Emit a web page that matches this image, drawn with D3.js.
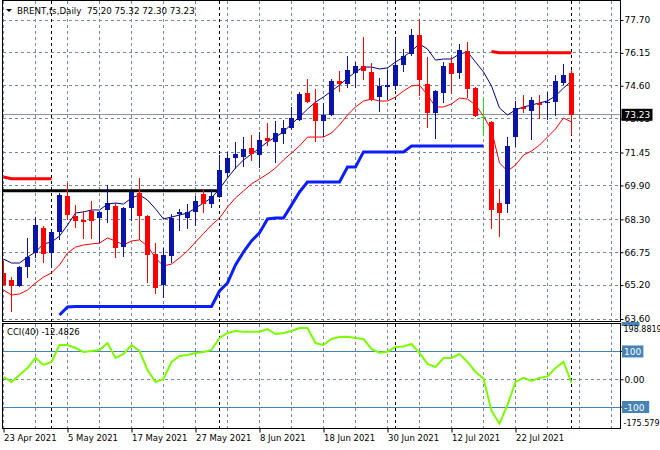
<!DOCTYPE html>
<html><head><meta charset="utf-8">
<script src="https://cdn.jsdelivr.net/npm/d3@7"></script>
<style>body{margin:0;background:#fff}svg{display:block}text{font-family:"DejaVu Sans",sans-serif}</style>
</head><body><svg id="c" width="660" height="450"></svg>
<script>
// ---------- data ----------
const dates = ["2021-04-23","2021-04-26","2021-04-27","2021-04-28","2021-04-29","2021-04-30",
"2021-05-03","2021-05-04","2021-05-05","2021-05-06","2021-05-07","2021-05-10","2021-05-11","2021-05-12","2021-05-13","2021-05-14",
"2021-05-17","2021-05-18","2021-05-19","2021-05-20","2021-05-21","2021-05-24","2021-05-25","2021-05-26","2021-05-27","2021-05-28","2021-05-31",
"2021-06-01","2021-06-02","2021-06-03","2021-06-04","2021-06-07","2021-06-08","2021-06-09","2021-06-10","2021-06-11","2021-06-14","2021-06-15",
"2021-06-16","2021-06-17","2021-06-18","2021-06-21","2021-06-22","2021-06-23","2021-06-24","2021-06-25","2021-06-28","2021-06-29","2021-06-30",
"2021-07-01","2021-07-02","2021-07-05","2021-07-06","2021-07-07","2021-07-08","2021-07-09","2021-07-12","2021-07-13","2021-07-14","2021-07-15",
"2021-07-16","2021-07-19","2021-07-20","2021-07-21","2021-07-22","2021-07-23","2021-07-26","2021-07-27","2021-07-28","2021-07-29","2021-07-30","2021-08-02"];

const opens = [65.77,65.44,65.16,66.05,66.71,67.89,66.71,67.70,69.40,68.46,
68.27,68.69,68.36,68.74,68.93,66.99,68.83,69.54,68.46,66.67,
65.20,66.57,68.55,68.36,68.65,69.50,69.02,69.35,70.48,71.19,
71.24,71.66,71.33,72.14,71.95,72.32,72.61,72.98,74.26,73.79,
72.94,73.22,74.82,74.68,75.20,75.53,75.25,74.07,74.54,74.59,
75.58,76.10,76.99,74.68,73.31,74.26,75.67,75.20,76.24,74.49,
73.12,72.89,69.07,69.02,72.18,73.60,73.41,73.79,73.79,73.83,
74.73,75.20];
const highs = [66.34,65.58,66.10,67.42,68.41,67.99,67.75,69.54,70.01,68.98,
68.69,69.16,68.70,69.92,69.07,68.88,69.64,70.25,68.50,67.18,
66.95,68.55,68.79,69.02,69.40,69.68,69.68,71.33,71.47,71.95,
72.18,72.28,72.42,72.84,72.94,72.98,73.60,74.30,74.92,74.45,
73.79,74.92,75.30,76.00,75.72,76.90,75.67,74.96,75.34,76.85,
76.33,77.28,77.75,75.95,74.38,75.72,75.95,76.57,76.66,74.54,
74.07,72.94,69.73,72.18,73.88,74.16,74.07,74.16,74.30,75.11,
75.62,75.32];
const lows = [65.16,63.93,65.11,65.53,66.48,66.24,66.00,67.33,68.27,67.89,
67.37,67.37,67.18,68.13,66.48,66.52,68.22,67.33,65.30,64.78,
64.59,66.24,67.75,67.84,67.99,68.60,68.83,69.31,70.30,70.67,
70.77,71.05,70.72,71.76,70.96,71.85,72.51,72.94,73.79,71.95,
72.18,73.17,74.30,74.49,74.49,74.87,73.88,73.36,73.93,74.40,
75.25,76.00,74.12,72.61,72.09,73.79,74.21,74.92,74.02,73.12,
72.23,67.84,67.47,68.60,71.71,73.31,72.04,73.03,72.98,73.17,
74.63,72.30];
const closes = [65.20,65.16,66.05,66.52,68.03,66.67,67.70,69.45,68.50,68.22,
68.17,68.22,68.65,69.07,66.95,68.83,69.59,68.46,66.62,65.06,
66.62,68.36,68.65,68.65,69.16,69.02,69.40,70.63,71.19,71.38,
71.62,71.38,72.04,71.99,72.37,72.61,73.08,74.21,73.83,72.94,
73.22,74.82,74.68,75.34,75.53,75.30,73.93,74.59,74.63,75.58,
76.00,76.99,74.87,73.31,74.35,75.53,75.15,76.29,74.45,73.17,
73.12,68.74,68.60,71.76,73.55,73.50,73.93,73.69,73.83,74.82,
75.11,73.23];

const maFast = [66.43,66.24,66.24,66.52,66.76,67.14,67.23,67.51,68.03,68.60,
68.65,68.74,68.74,69.02,69.07,69.02,69.31,69.45,69.21,68.79,
68.32,68.41,68.50,68.60,68.83,69.07,69.31,69.73,70.25,70.72,
71.10,71.38,71.66,71.95,72.18,72.42,72.80,73.13,73.50,73.83,
74.07,74.35,74.63,74.96,75.25,75.48,75.48,75.39,75.44,75.72,
75.95,76.24,76.57,76.33,75.81,75.86,75.86,76.10,76.19,75.72,
75.25,74.59,73.55,73.22,73.46,73.60,73.69,73.79,73.88,74.12,
74.49,74.82];
const maSlow = [64.97,64.73,64.78,64.97,65.30,65.58,65.77,66.15,66.71,66.99,
67.09,67.14,67.18,67.42,67.28,67.09,67.28,67.33,67.04,66.48,
66.10,66.19,66.48,66.81,67.23,67.63,68.03,68.36,68.88,69.31,
69.64,69.97,70.20,70.44,70.72,71.10,71.43,71.76,72.18,72.18,
72.18,72.37,72.75,73.22,73.60,73.88,73.97,73.88,73.88,74.07,
74.35,74.59,74.63,74.16,73.60,73.60,73.74,74.02,73.97,73.69,
73.17,72.51,70.96,70.58,70.86,71.33,71.52,71.80,72.18,72.56,
73.08,72.89];

// thick blue trailing line (bar index, value)
const stopIdx = [7,8,9,26,27,28,29,30,31,32,33,34,35,36,37,38,42,43,44,45,50,51,60];
const stopVal = [63.79,64.17,64.19,64.19,64.92,65.30,66.15,66.76,67.28,67.66,68.32,68.36,68.36,68.97,69.59,70.06,70.06,70.77,70.77,71.48,71.48,71.76,71.76];
// thick red resistance segments
const resLeftIdx = [0,1,6];
const resLeftVal = [70.30,70.21,70.21];
const resRightIdx = [61,62,71];
const resRightVal = [76.21,76.16,76.16];
// thick black level
const levelIdx = [-0.2,27];
const levelVal = [69.65,69.65];

const cci = [8.3,-9.7,15.5,40.6,76.5,51.4,62.2,123.2,123.2,112.5,
98.1,101.7,105.3,130.4,76.5,90.9,123.2,101.7,33.4,-9.7,
1.1,62.2,83.7,87.3,94.5,98.1,105.3,148.4,166.4,173.6,
171.0,171.0,171.0,180.7,162.8,166.4,173.6,184.4,184.4,130.4,
123.2,144.8,152.0,153.1,148.4,144.8,108.9,95.6,99.2,116.1,
117.9,126.9,94.5,55.0,44.2,76.5,76.5,90.9,62.2,26.2,
2.9,-113.9,-160.0,-92.3,-9.7,4.7,-6.1,4.7,10.1,40.6,
62.2,-12.4826];

const priceTicks = [77.70,76.15,74.60,73.05,71.45,69.90,68.30,66.75,65.20,63.60];
const cciLevels = [100,-100];
const cciMax = 198.8819, cciMin = -175.579;
const lastPrice = 73.23;
const dateLabelIdx = [0,8,16,24,32,40,48,56,64];
const separatorIdx = [6,27,49,71];
const headerText = "BRENT,fs,Daily  75.20 75.32 72.30 73.23";
const cciTitle = "CCI(40) -12.4826";

// ---------- layout ----------
const svg = d3.select("#c");
const L = 2.5, R = 620.5, mTop = 0.5, mBot = 321.5, cTop = 323.5, cBot = 428.5;
const x = d3.scaleLinear().domain([0, 71]).range([3.5, 3.5 + 71 * 8]);
const y = d3.scaleLinear().domain([63.60, 77.70]).range([319, 20]);
const yc = d3.scaleLinear().domain([cciMin, cciMax]).range([428, 324]);
const parse = d3.timeParse("%Y-%m-%d"), fmt = d3.timeFormat("%-d %b %Y");
const GRID = "#778899", BULL = "#0a14a8", BEAR = "#ff0000";
const snap = v => Math.round(v - 0.5) + 0.5;

const defs = svg.append("defs");
defs.append("clipPath").attr("id","cm").append("rect").attr("x",L).attr("y",mTop).attr("width",R-L).attr("height",mBot-mTop);
defs.append("clipPath").attr("id","cc").append("rect").attr("x",L).attr("y",cTop).attr("width",R-L).attr("height",cBot-cTop);

const gm = svg.append("g").attr("clip-path","url(#cm)");
const gc = svg.append("g").attr("clip-path","url(#cc)");

// vertical grid (every 4 bars)
const vgrid = d3.range(0, 80, 4);
[[gm,mTop,mBot],[gc,cTop,cBot]].forEach(([g,t,b]) => {
  g.selectAll(null).data(vgrid).join("line")
    .attr("x1",d=>x(d)).attr("x2",d=>x(d)).attr("y1",t).attr("y2",b)
    .attr("stroke",GRID).attr("stroke-dasharray","3,3").attr("shape-rendering","crispEdges");
});
// horizontal grid
gm.selectAll(null).data(priceTicks).join("line")
  .attr("x1",L).attr("x2",R).attr("y1",d=>snap(y(d))).attr("y2",d=>snap(y(d)))
  .attr("stroke",GRID).attr("stroke-dasharray","3,3").attr("shape-rendering","crispEdges");
gc.append("line").attr("x1",L).attr("x2",R).attr("y1",snap(yc(0))).attr("y2",snap(yc(0)))
  .attr("stroke",GRID).attr("stroke-dasharray","3,3").attr("shape-rendering","crispEdges");
// separators
[[gm,mTop,mBot],[gc,cTop,cBot]].forEach(([g,t,b]) => {
  g.selectAll(null).data(separatorIdx).join("line")
    .attr("x1",d=>x(d)).attr("x2",d=>x(d)).attr("y1",t).attr("y2",b)
    .attr("stroke","#000").attr("stroke-dasharray","3,3").attr("shape-rendering","crispEdges");
});
// CCI levels
gc.selectAll(null).data(cciLevels).join("line")
  .attr("x1",L).attr("x2",R).attr("y1",d=>snap(yc(d))).attr("y2",d=>snap(yc(d)))
  .attr("stroke","#4682b4").attr("shape-rendering","crispEdges");

// last price line
gm.append("line").attr("x1",L).attr("x2",R).attr("y1",snap(y(lastPrice))).attr("y2",snap(y(lastPrice)))
  .attr("stroke","#8a96a3").attr("shape-rendering","crispEdges");

// thick lines
const lineP = d3.line().x(d=>x(d[0])).y(d=>y(d[1]));
gm.append("path").attr("d",lineP(levelIdx.map((d,i)=>[d,levelVal[i]]))).attr("stroke","#000").attr("stroke-width",3).attr("fill","none");
gm.append("path").attr("d",lineP(resLeftIdx.map((d,i)=>[d,resLeftVal[i]]))).attr("stroke","#ff0000").attr("stroke-width",3).attr("fill","none");
gm.append("path").attr("d",lineP(resRightIdx.map((d,i)=>[d,resRightVal[i]]))).attr("stroke","#ff0000").attr("stroke-width",3).attr("fill","none");
gm.append("path").attr("d",lineP(stopIdx.map((d,i)=>[d,stopVal[i]]))).attr("stroke","#0a1eff").attr("stroke-width",3).attr("fill","none");

// moving averages
gm.append("path").attr("d",lineP(maSlow.map((v,i)=>[i,v]))).attr("stroke","#ff0000").attr("stroke-width",1).attr("fill","none");
gm.append("path").attr("d",lineP(maFast.map((v,i)=>[i,v]))).attr("stroke","#000080").attr("stroke-width",1).attr("fill","none");

// candles
const bars = d3.range(opens.length);
const col = i => closes[i] > opens[i] ? BULL : (closes[i] < opens[i] ? BEAR : "#22dd22");
const cg = gm.append("g").attr("shape-rendering","crispEdges");
cg.selectAll(null).data(bars).join("line")
  .attr("x1",i=>x(i)).attr("x2",i=>x(i)).attr("y1",i=>y(highs[i])).attr("y2",i=>y(lows[i]))
  .attr("stroke",col);
cg.selectAll(null).data(bars).join("rect")
  .attr("x",i=>x(i)-2.5).attr("width",5)
  .attr("y",i=>y(Math.max(opens[i],closes[i])))
  .attr("height",i=>Math.max(1, Math.abs(y(opens[i])-y(closes[i]))))
  .attr("fill",col);

// CCI line
const lineC = d3.line().x((d,i)=>x(i)).y(d=>yc(d));
gc.append("path").attr("d",lineC(cci)).attr("stroke","#7cfc00").attr("stroke-width",2).attr("fill","none");

// borders
svg.append("rect").attr("x",L).attr("y",mTop).attr("width",R-L).attr("height",mBot-mTop).attr("fill","none").attr("stroke","#000");
svg.append("rect").attr("x",L).attr("y",cTop).attr("width",R-L).attr("height",cBot-cTop).attr("fill","none").attr("stroke","#000");

// right price axis
const ax = svg.append("g").attr("transform",`translate(${R},0)`)
  .call(d3.axisRight(y).tickValues(priceTicks).tickSize(3).tickPadding(1).tickFormat(d3.format(".2f")));
ax.select(".domain").remove();
ax.selectAll("line").attr("stroke","#000");
ax.selectAll("text").attr("font-size",9).attr("font-family","DejaVu Sans").attr("fill","#000");

// last price box
const lp = svg.append("g").attr("transform",`translate(${R+1},${y(lastPrice)})`);
lp.append("rect").attr("x",0).attr("y",-6).attr("width",31).attr("height",12).attr("fill","#000");
lp.append("text").attr("x",3).attr("y",3.5).attr("font-size",9).attr("fill","#fff").text(d3.format(".2f")(lastPrice));

// CCI axis
const cax = svg.append("g").attr("transform",`translate(${R},0)`)
  .call(d3.axisRight(yc).tickValues([0]).tickSize(3).tickPadding(1).tickFormat(d3.format(".2f")));
cax.select(".domain").remove();
cax.selectAll("text").attr("font-size",9).attr("fill","#000");
cciLevels.forEach(v => {
  const g = svg.append("g").attr("transform",`translate(${R},${yc(v)})`);
  g.append("line").attr("x1",0).attr("x2",3).attr("stroke","#000");
  const t = String(v);
  g.append("rect").attr("x",1.5).attr("y",-6).attr("width",t.length*5.8+4).attr("height",12).attr("fill","#4682b4");
  g.append("text").attr("x",3.5).attr("y",3.5).attr("font-size",9).attr("fill","#fff").text(t);
});
svg.append("rect").attr("x",R+1).attr("y",322).attr("width",18).attr("height",4).attr("fill","#4682b4");
svg.append("text").attr("x",R+3).attr("y",yc(cciMax)+7.5).attr("font-size",8).attr("fill","#000").text(String(cciMax));
svg.append("text").attr("x",R+3).attr("y",yc(cciMin)-2).attr("font-size",8).attr("fill","#000").text(String(cciMin));

// bottom date axis
const bx = svg.append("g").attr("transform",`translate(0,${cBot})`)
  .call(d3.axisBottom(x).tickValues(dateLabelIdx).tickSize(4).tickPadding(2).tickFormat(i=>fmt(parse(dates[i]))));
bx.select(".domain").remove();
bx.selectAll("line").attr("stroke","#000");
bx.selectAll("text").attr("text-anchor","start").attr("x",0).attr("font-size",8.5).attr("fill","#000");

// header
svg.append("path").attr("d","M6,9 L12,9 L9,12 Z").attr("fill","#000");
svg.append("text").attr("x",17).attr("y",14).attr("font-size",8.7).attr("fill","#000").attr("xml:space","preserve").text(headerText);
svg.append("text").attr("x",7).attr("y",334.5).attr("font-size",8.5).attr("fill","#000").text(cciTitle);
</script></body></html>
